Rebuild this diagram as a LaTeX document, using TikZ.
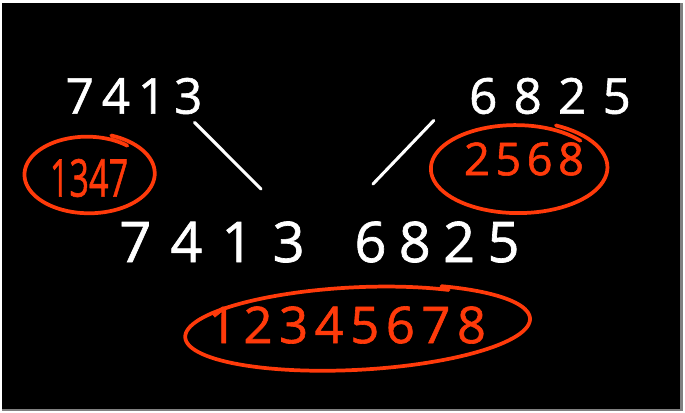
\documentclass[tikz,border=0pt]{standalone}
\usepackage{fontspec}
\usepackage{xcolor}
\usepackage{tikz}
\newfontfamily\handfont[FakeBold=1.2]{Open Sans}
\usetikzlibrary{positioning}
\definecolor{pen}{RGB}{255,58,10}
\tikzstyle{digits} = [inner sep=0pt, text=white]
\tikzstyle{marked} = [inner sep=0pt, text=pen]
\tikzstyle{chalk} = [line width=2.3pt, white, line cap=round]
\tikzstyle{redring} = [line width=2.8pt, draw=pen, line cap=round, line join=round]
\tikzset{hand/.style 2 args={font=\handfont\fontsize{#1}{#1}\selectfont\addfontfeature{LetterSpace=#2}}}

\begin{document}
\begin{tikzpicture}[x=0.75pt, y=-0.75pt]
    \useasboundingbox (0,0) rectangle (685,412);
    % Board
    \fill[white] (0,0) rectangle (685,412);
    \fill[black!50] (2,3) rectangle (683,411);
    \fill[black] (2,3) rectangle (680,409);

    % Nodes
    \node [digits, hand={37}{16}] (topleft) at (134,96) {7413};
    \node [digits, hand={37}{33}] (topright) at (550,96) {6825};
    \node [digits, hand={42}{34}] (rowleft) at (212,242) {7413};
    \node [digits, hand={42}{22}, right=37pt of rowleft] (rowright) {6825};
    \node [marked, hand={39}{0}, xscale=0.66] (sortleft) at (89,178) {1347};
    \node [marked, hand={34}{12}] (sortright) at (524,159) {2568};
    \node [marked, hand={38}{13}] (merged) at (347,325) {12345678};

    % Lines
    \coordinate (leftfoot) at (261,189);
    \coordinate (rightfoot) at (373,184);
    \draw [chalk] ([shift={(-8,8)}]topleft.south east) -- (leftfoot);
    \draw [chalk] ([shift={(-35,6)}]topright.south west) -- (rightfoot);

    % Rings
    \draw [redring] plot[domain=50:430, samples=90]
        ({88+68*(0.9+0.1*(\x-50)/380)*cos(\x)}, {174-41*(0.9+0.1*(\x-50)/380)*sin(\x)});
    \draw [redring] plot[domain=40:425, samples=90]
        ({517+92*(0.9+0.1*(\x-40)/385)*cos(\x)}, {168-47*(0.9+0.1*(\x-40)/385)*sin(\x)});
    \draw [redring, rotate around={3:(355,328)}] plot[domain=55:420, samples=120]
        ({355+177*(0.94+0.06*(\x-55)/365)*cos(\x)}, {328-43*(0.94+0.06*(\x-55)/365)*sin(\x)});
\end{tikzpicture}
\end{document}
